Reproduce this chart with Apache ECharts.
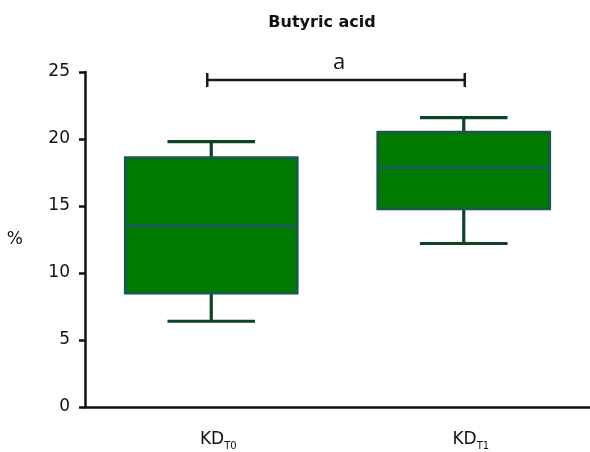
<!DOCTYPE html>
<html>
<head>
<meta charset="utf-8">
<script src="https://cdn.jsdelivr.net/npm/echarts@6/dist/echarts.min.js"></script>
<style>html,body{margin:0;padding:0;background:#fff}#c{width:590px;height:452px}</style>
</head>
<body>
<div id="c"></div>
<script>
// ---- data ----
const categories = ['KD_T0', 'KD_T1'];
const minVals    = [6.4, 12.2];
const q1Vals     = [8.5, 14.8];
const medianVals = [13.5, 17.9];
const q3Vals     = [18.6, 20.5];
const maxVals    = [19.8, 21.6];
const yTicks     = [0, 5, 10, 15, 20, 25];
const sigLabel   = 'a';
const sigLevel   = 24.4;

const boxData = categories.map((c, i) => [i, minVals[i], q1Vals[i], medianVals[i], q3Vals[i], maxVals[i]]);

function renderBox(params, api) {
  const i = api.value(0);
  const band = api.size([1, 0])[0];
  const hw = band * 0.34;
  const cw = hw * 0.51;
  const pMin = api.coord([i, api.value(1)]);
  const pQ1 = api.coord([i, api.value(2)]);
  const pMed = api.coord([i, api.value(3)]);
  const pQ3 = api.coord([i, api.value(4)]);
  const pMax = api.coord([i, api.value(5)]);
  const x = pMed[0];
  const wStyle = { stroke: '#0b4424', lineWidth: 3.2 };
  return {
    type: 'group',
    children: [
      { type: 'line', shape: { x1: x, y1: pQ3[1], x2: x, y2: pMax[1] }, style: wStyle },
      { type: 'line', shape: { x1: x - cw, y1: pMax[1], x2: x + cw, y2: pMax[1] }, style: wStyle },
      { type: 'line', shape: { x1: x, y1: pQ1[1], x2: x, y2: pMin[1] }, style: wStyle },
      { type: 'line', shape: { x1: x - cw, y1: pMin[1], x2: x + cw, y2: pMin[1] }, style: wStyle },
      { type: 'rect', shape: { x: x - hw, y: pQ3[1], width: 2 * hw, height: pQ1[1] - pQ3[1] },
        style: { fill: '#007a00', stroke: '#175a45', lineWidth: 3 } },
      { type: 'line', shape: { x1: x - hw + 1.5, y1: pMed[1], x2: x + hw - 1.5, y2: pMed[1] },
        style: { stroke: '#1e5c5c', lineWidth: 3 } }
    ]
  };
}

function renderSig(params, api) {
  const a = api.coord([api.value(0), api.value(2)]);
  const b = api.coord([api.value(1), api.value(2)]);
  const st = { stroke: '#1a1a1a', lineWidth: 2.5 };
  const x1 = a[0] - 4, x2 = b[0] + 1, y = a[1];
  return {
    type: 'group',
    children: [
      { type: 'line', shape: { x1: x1, y1: y, x2: x2, y2: y }, style: st },
      { type: 'line', shape: { x1: x1, y1: y - 7, x2: x1, y2: y + 7 }, style: st },
      { type: 'line', shape: { x1: x2, y1: y - 7, x2: x2, y2: y + 7 }, style: st },
      { type: 'text', x: (x1 + x2) / 2 + 3, y: y - 6,
        style: { text: sigLabel, fill: '#111', font: '22px "Open Sans"', textAlign: 'center', textVerticalAlign: 'bottom' } }
    ]
  };
}

const chart = echarts.init(document.getElementById('c'));
chart.setOption({
  animation: false,
  title: {
    text: 'Butyric acid', left: 317, top: 10, textAlign: 'center',
    textStyle: { fontFamily: 'DejaVu Sans', fontWeight: 'bold', fontSize: 16, color: '#111' }
  },
  grid: { left: 85, top: 72, width: 508, height: 335 },
  xAxis: {
    type: 'category', data: categories,
    axisLine: { lineStyle: { color: '#111', width: 2.5 } },
    axisTick: { alignWithLabel: true, length: 9, lineStyle: { color: '#111', width: 2.5 } },
    axisLabel: {
      margin: 22,
      formatter: v => { const p = v.split('_'); return '{m|' + p[0] + '}{s|' + p[1] + '}'; },
      rich: {
        m: { fontFamily: 'DejaVu Sans', fontSize: 17, color: '#111', padding: [0, 0, 0, 14] },
        s: { fontFamily: 'DejaVu Sans', fontSize: 10, color: '#111', padding: [12, 0, 0, 0] }
      }
    }
  },
  yAxis: {
    type: 'value', min: 0, max: 25, interval: 5,
    name: '%', nameLocation: 'middle', nameGap: 62, nameRotate: 0,
    nameTextStyle: { fontFamily: 'DejaVu Sans', fontSize: 17, color: '#111' },
    axisLine: { show: true, lineStyle: { color: '#111', width: 2.5 } },
    axisTick: { show: true, length: 6, lineStyle: { color: '#111', width: 2.5 } },
    splitLine: { show: false },
    axisLabel: {
      margin: 15, fontFamily: 'DejaVu Sans', fontSize: 17, color: '#111',
      formatter: v => (yTicks.indexOf(v) >= 0 ? String(v) : '')
    }
  },
  series: [
    { type: 'custom', renderItem: renderBox, data: boxData, encode: { x: 0, y: [1, 2, 3, 4, 5] }, clip: false },
    { type: 'custom', renderItem: renderSig, data: [[0, 1, sigLevel]], encode: { x: [0, 1], y: 2 }, clip: false }
  ]
});
</script>
</body>
</html>
